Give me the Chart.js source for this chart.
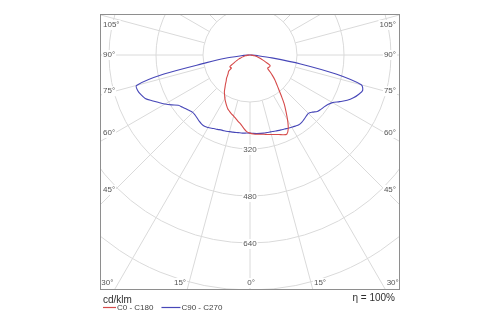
<!DOCTYPE html>
<html>
<head>
<meta charset="utf-8">
<title>Luminous intensity distribution</title>
<script src="https://cdn.jsdelivr.net/npm/chart.js@4/dist/chart.umd.min.js"></script>
<style>
  html, body { margin: 0; padding: 0; background: #fff; }
  #wrap { width: 500px; height: 325px; }
</style>
</head>
<body>
<div id="wrap"><canvas id="ldc" width="500" height="325"></canvas></div>
<script>
// Gamma angles (degrees from nadir) at which the intensities are given
const gammaAngles = [0, 2.5, 5, 7.5, 10, 12.5, 15, 17.5, 20, 22.5, 25, 27.5, 30, 32.5, 35, 37.5,
  40, 42.5, 45, 47.5, 50, 52.5, 55, 57.5, 60, 62.5, 65, 67.5, 70, 72.5, 75, 77.5, 80, 82.5, 85, 87.5, 90];

// Intensities in cd/klm for each half-plane
const planeC0 = [266, 269, 271, 272, 274, 277, 280, 284, 288, 294, 297, 282, 256, 228, 203, 175,
  152, 134, 120, 104, 89, 76, 75, 77, 78, 77, 64, 52, 42, 34, 27, 21, 15, 10, 5, 2, 0];
const planeC180 = [266, 261, 250, 238, 230, 222, 215, 210, 204, 198, 189, 180, 171, 161, 152, 140,
  130, 120, 113, 104, 97, 92, 77, 79, 79, 67, 57, 48, 41, 33, 28, 22, 16, 10, 6, 2, 0];
const planeC90 = [266, 267, 268, 269, 270, 270, 271, 272, 274, 276, 278, 281, 284, 287, 290, 289,
  286, 283, 281, 288, 299, 304, 308, 314, 324, 344, 365, 381, 393, 402, 392, 300, 175, 75, 25, 6, 0];
const planeC270 = [266, 266, 267, 267, 268, 269, 270, 272, 273, 275, 278, 281, 285, 288, 287, 284,
  280, 277, 276, 280, 285, 291, 298, 316, 334, 350, 368, 386, 395, 401, 400, 300, 150, 85, 30, 8, 0];

const seriesNames = ['C0 - C180', 'C90 - C270'];
const seriesColors = ['#d64a4a', '#4747b8'];

// Polar grid
const ringValues = [160, 320, 480, 640, 800];
const ringLabelValues = [320, 480, 640];
const spokeStep = 15;
const angleLabelValues = [0, 15, 30, 45, 60, 75, 90, 105];
const unitLabel = 'cd/klm';
const efficiencyLabel = '\u03b7 = 100%';

// Visible window of the diagram in cd/klm (equal units on both axes)
const yBottom = -800;
const yTop = 139.6;
const xHalf = 510.6;

// Build one closed C-plane curve: left half from 90° down to nadir, right half back up to 90°
function planeCurve(leftHalf, rightHalf) {
  const pts = [];
  for (let i = gammaAngles.length - 1; i >= 0; i--) {
    const g = gammaAngles[i] * Math.PI / 180;
    pts.push({ x: -leftHalf[i] * Math.sin(g), y: -leftHalf[i] * Math.cos(g) });
  }
  for (let i = 1; i < gammaAngles.length; i++) {
    const g = gammaAngles[i] * Math.PI / 180;
    pts.push({ x: rightHalf[i] * Math.sin(g), y: -rightHalf[i] * Math.cos(g) });
  }
  return pts;
}

const tickFont = '8px "Liberation Sans", Arial, sans-serif';
const tickColor = '#555';

function tag(ctx, text, x, y, align) {
  ctx.font = tickFont;
  ctx.textAlign = align;
  ctx.textBaseline = 'middle';
  const w = ctx.measureText(text).width;
  const left = align === 'left' ? x : align === 'right' ? x - w : x - w / 2;
  ctx.fillStyle = '#fff';
  ctx.fillRect(left - 1, y - 5, w + 2, 10);
  ctx.fillStyle = tickColor;
  ctx.fillText(text, x, y);
}

const polarFrame = {
  id: 'polarFrame',
  beforeDatasetsDraw(chart) {
    const { ctx, chartArea: a, scales: { x, y } } = chart;
    const cx = x.getPixelForValue(0);
    const cy = y.getPixelForValue(0);
    const px = v => Math.abs(x.getPixelForValue(v) - cx);

    ctx.save();
    ctx.beginPath();
    ctx.rect(a.left, a.top, a.right - a.left, a.bottom - a.top);
    ctx.clip();

    ctx.strokeStyle = '#dadada';
    ctx.lineWidth = 1;
    ringValues.forEach(v => {
      ctx.beginPath();
      ctx.arc(cx, cy, px(v), 0, Math.PI * 2);
      ctx.stroke();
    });
    const r0 = px(ringValues[0]);
    const r1 = px(1400);
    for (let d = 0; d < 360; d += spokeStep) {
      const t = d * Math.PI / 180;
      const sx = Math.sin(t), sy = Math.cos(t);
      ctx.beginPath();
      ctx.moveTo(cx + sx * r0, cy + sy * r0);
      ctx.lineTo(cx + sx * r1, cy + sy * r1);
      ctx.stroke();
    }

    // intensity values along the nadir line
    ringLabelValues.forEach(v => tag(ctx, String(v), cx, cy + px(v) + 1, 'center'));

    // gamma angle labels where the spokes meet the frame
    angleLabelValues.forEach(d => {
      const sides = d === 0 ? [1] : [-1, 1];
      sides.forEach(side => {
        const t = d * Math.PI / 180;
        const dx = side * Math.sin(t);
        const dy = Math.cos(t);
        const half = side > 0 ? a.right - cx : cx - a.left;
        const tSide = Math.abs(dx) > 1e-9 ? half / Math.abs(dx) : Infinity;
        const tBottom = dy > 1e-9 ? (a.bottom - cy) / dy : Infinity;
        const text = d + '\u00b0';
        if (tBottom < tSide) {
          const lx = cx + dx * tBottom + side * 1;
          const align = d === 0 ? 'center' : side < 0 ? 'right' : 'left';
          tag(ctx, text, lx, a.bottom - 7, align);
        } else {
          const inset = (half - 15) / Math.abs(dx);
          const ly = Math.max(a.top + 11, cy + dy * inset);
          if (side < 0) tag(ctx, text, a.left + 3, ly, 'left');
          else tag(ctx, text, a.right - 4, ly, 'right');
        }
      });
    });
    ctx.restore();
  },
  afterDraw(chart) {
    const { ctx, chartArea: a } = chart;
    ctx.save();
    ctx.strokeStyle = '#8e8e8e';
    ctx.lineWidth = 1;
    ctx.strokeRect(a.left + 0.5, a.top + 0.5, a.right - a.left - 1, a.bottom - a.top - 1);

    ctx.fillStyle = '#2e2e2e';
    ctx.textBaseline = 'middle';
    ctx.font = '10px "Liberation Sans", Arial, sans-serif';
    ctx.textAlign = 'left';
    ctx.fillText(unitLabel, a.left + 3, a.bottom + 10);
    ctx.textAlign = 'right';
    ctx.fillText(efficiencyLabel, a.right - 5, a.bottom + 8);

    // legend
    ctx.font = tickFont;
    ctx.textAlign = 'left';
    let lx = a.left + 3;
    const ly = a.bottom + 17.5;
    chart.data.datasets.forEach((ds, i) => {
      const lineLen = i === 0 ? 13 : 19;
      ctx.strokeStyle = ds.borderColor;
      ctx.lineWidth = 1.2;
      ctx.beginPath();
      ctx.moveTo(lx, ly);
      ctx.lineTo(lx + lineLen, ly);
      ctx.stroke();
      ctx.fillStyle = '#444';
      ctx.fillText(ds.label, lx + lineLen + 1, ly);
      lx += lineLen + 1 + ctx.measureText(ds.label).width + 8;
    });
    ctx.restore();
  }
};

new Chart(document.getElementById('ldc'), {
  type: 'scatter',
  data: {
    datasets: [
      { label: seriesNames[0], data: planeCurve(planeC180, planeC0), borderColor: seriesColors[0] },
      { label: seriesNames[1], data: planeCurve(planeC270, planeC90), borderColor: seriesColors[1] }
    ].map(ds => Object.assign(ds, {
      showLine: true, pointRadius: 0, borderWidth: 1.1, fill: false, tension: 0.3
    }))
  },
  options: {
    responsive: false,
    animation: false,
    devicePixelRatio: 1,
    events: [],
    layout: { padding: { left: 100, right: 100, top: 14, bottom: 35 } },
    scales: {
      x: { type: 'linear', min: -xHalf, max: xHalf, display: false },
      y: { type: 'linear', min: yBottom, max: yTop, display: false }
    },
    plugins: { legend: { display: false }, tooltip: { enabled: false } }
  },
  plugins: [polarFrame]
});
</script>
</body>
</html>
